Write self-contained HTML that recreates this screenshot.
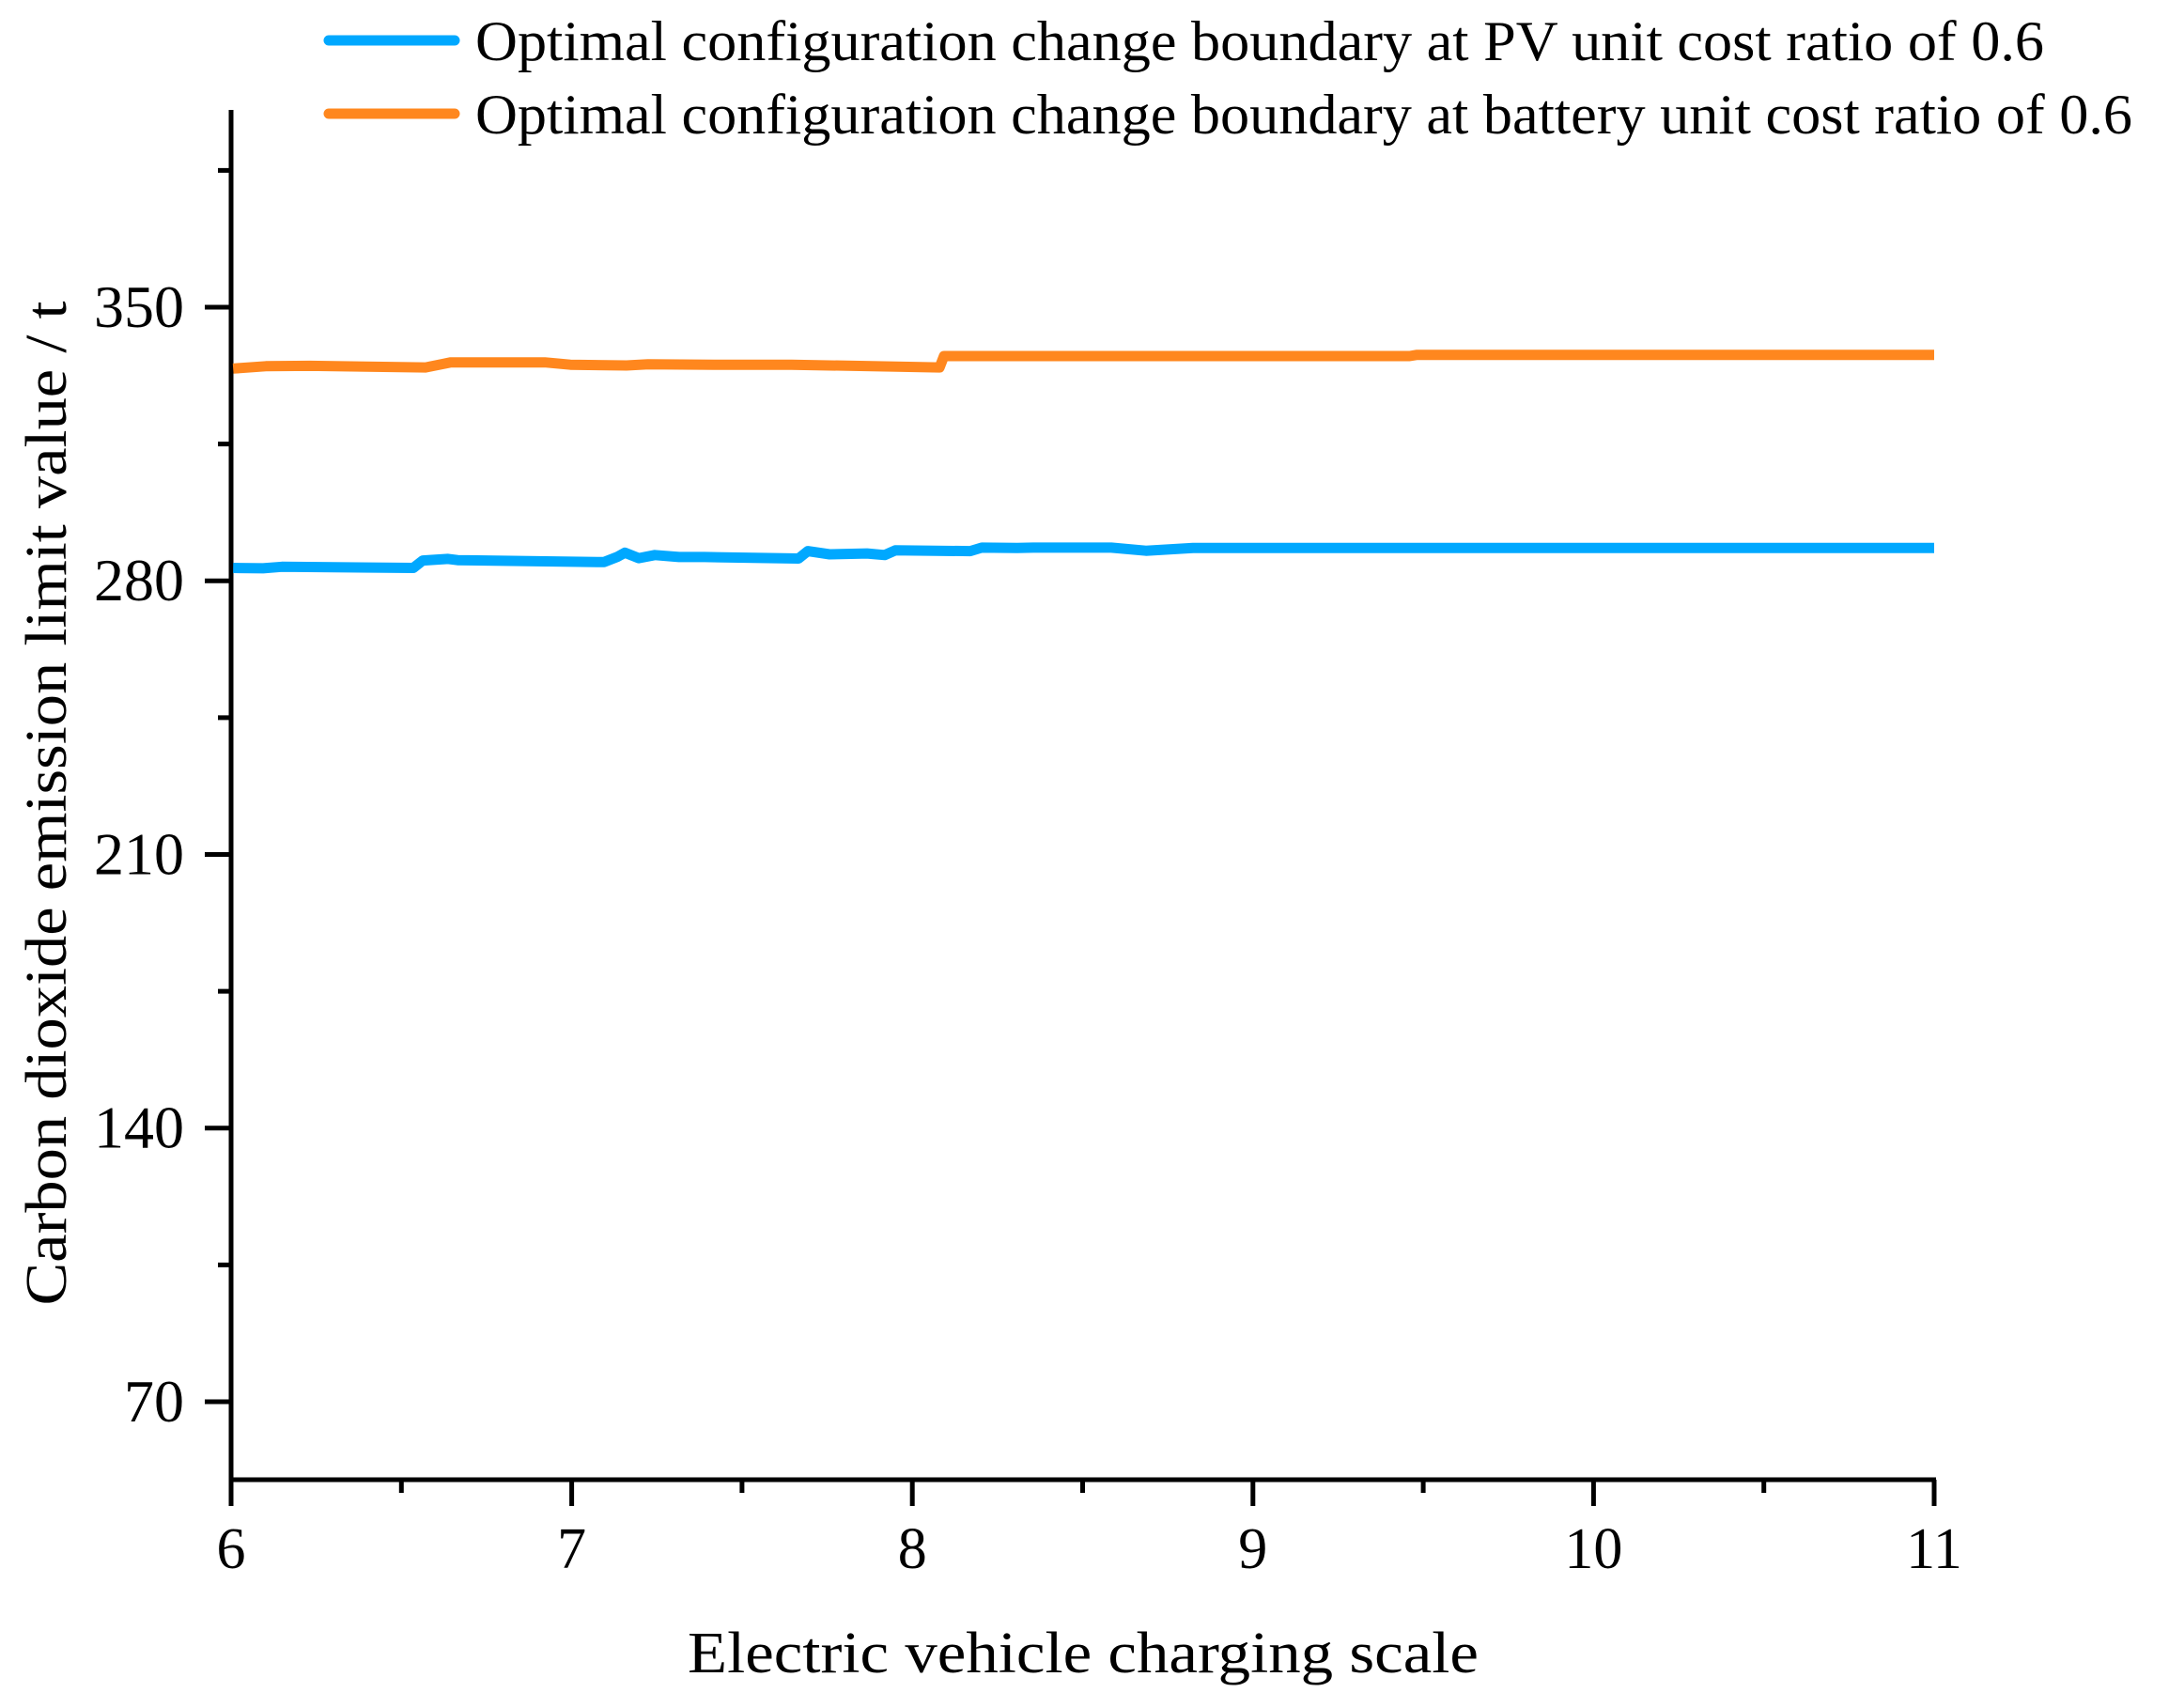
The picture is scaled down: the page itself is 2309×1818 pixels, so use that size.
<!DOCTYPE html>
<html><head><meta charset="utf-8"><style>
html,body{margin:0;padding:0;background:#fff;}
svg{display:block;font-family:"Liberation Serif","Times New Roman",serif;}
</style></head><body>
<svg id="chart" width="2309" height="1818" viewBox="0 0 2309 1818" xmlns="http://www.w3.org/2000/svg">
<g id="axes"></g>
<g id="series"></g>
<g>
  <line x1="350" y1="43" x2="484" y2="43" stroke="#00a8ff" stroke-width="11" stroke-linecap="round"/>
  <text x="506" y="64" font-size="60" textLength="1670" lengthAdjust="spacingAndGlyphs">Optimal configuration change boundary at PV unit cost ratio of 0.6</text>
  <line x1="350" y1="121" x2="484" y2="121" stroke="#ff871e" stroke-width="11" stroke-linecap="round"/>
  <text x="506" y="142" font-size="60" textLength="1764" lengthAdjust="spacingAndGlyphs">Optimal configuration change boundary at battery unit cost ratio of 0.6</text>
</g>
<text x="1153" y="1780" font-size="62" text-anchor="middle" textLength="842" lengthAdjust="spacingAndGlyphs">Electric vehicle charging scale</text>
<text transform="translate(70,855) rotate(-90)" font-size="62" text-anchor="middle" textLength="1069" lengthAdjust="spacingAndGlyphs">Carbon dioxide emission limit value / t</text>
</svg>
<script>
const xTicks = [6, 7, 8, 9, 10, 11];
const yTicks = [70, 140, 210, 280, 350];
const xMinor = [6.5, 7.5, 8.5, 9.5, 10.5];
const yMinor = [105, 175, 245, 315, 385];
const pvX = [6.006, 6.094, 6.149, 6.535, 6.563, 6.637, 6.665, 7.095, 7.133, 7.156, 7.197, 7.244, 7.315, 7.39, 7.666, 7.693, 7.757, 7.867, 7.919, 7.95, 8.17, 8.204, 8.308, 8.355, 8.584, 8.686, 8.824, 11];
const pvY = [283.3, 283.2, 283.6, 283.3, 285.2, 285.6, 285.3, 284.8, 286.1, 287.2, 285.8, 286.6, 286.1, 286.1, 285.7, 287.6, 286.8, 287.0, 286.6, 287.8, 287.6, 288.5, 288.4, 288.5, 288.5, 287.7, 288.4, 288.4];
const batX = [6.006, 6.102, 6.232, 6.571, 6.645, 6.921, 6.996, 7.161, 7.224, 7.418, 7.646, 8.08, 8.093, 9.46, 9.48, 11];
const batY = [334.3, 334.9, 335.0, 334.6, 335.9, 335.9, 335.3, 335.1, 335.4, 335.3, 335.3, 334.6, 337.5, 337.5, 337.8, 337.8];

const X = v => 246 + (v - 6) * 362.6;
const Y = v => 327 + (350 - v) * 4.1607;
const NS = 'http://www.w3.org/2000/svg';
const axes = document.getElementById('axes');
const series = document.getElementById('series');
function mk(tag, attrs, parent) {
  const e = document.createElementNS(NS, tag);
  for (const k in attrs) e.setAttribute(k, attrs[k]);
  parent.appendChild(e);
  return e;
}
let el;
el = mk('line', {x1: 246, y1: 117, x2: 246, y2: 1577, stroke: '#000', 'stroke-width': 5}, axes);


el = mk('line', {x1: 244, y1: 1575, x2: 2061, y2: 1575, stroke: '#000', 'stroke-width': 5}, axes);


xTicks.forEach(t => {
  const tk = mk('line', {x1: X(t), y1: 1575, x2: X(t), y2: 1603, stroke: '#000', 'stroke-width': 5}, axes);
  
  
  const tx = mk('text', {x: X(t), y: 1669, 'font-size': 62, 'text-anchor': 'middle'}, axes);
  tx.textContent = t;
  
  
});
xMinor.forEach(t => {
  const tk = mk('line', {x1: X(t), y1: 1575, x2: X(t), y2: 1589, stroke: '#000', 'stroke-width': 5}, axes);
  
  
});
yTicks.forEach(t => {
  const tk = mk('line', {x1: 218, y1: Y(t), x2: 246, y2: Y(t), stroke: '#000', 'stroke-width': 5}, axes);
  
  
  const tx = mk('text', {x: 196, y: Y(t) + 21, 'font-size': 64, 'text-anchor': 'end'}, axes);
  tx.textContent = t;
  
  
});
yMinor.forEach(t => {
  const tk = mk('line', {x1: 232, y1: Y(t), x2: 246, y2: Y(t), stroke: '#000', 'stroke-width': 5}, axes);
  
  
});
function pts(xs, ys) { return xs.map((x, i) => X(x).toFixed(1) + ',' + Y(ys[i]).toFixed(1)).join(' '); }
el = mk('polyline', {points: pts(batX, batY), fill: 'none', stroke: '#ff871e', 'stroke-width': 11, 'stroke-linejoin': 'round'}, series);


el = mk('polyline', {points: pts(pvX, pvY), fill: 'none', stroke: '#00a8ff', 'stroke-width': 11, 'stroke-linejoin': 'round'}, series);


</script>
</body></html>
